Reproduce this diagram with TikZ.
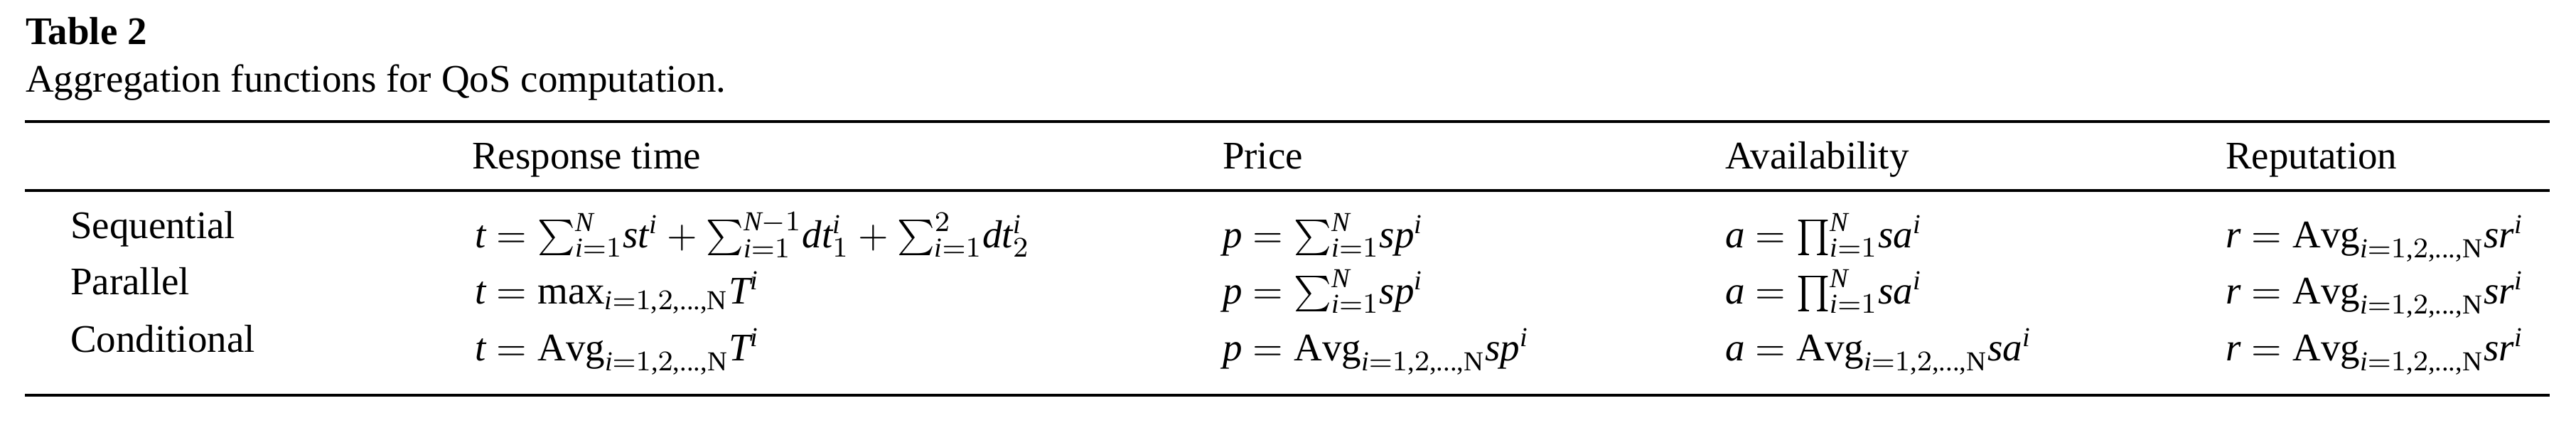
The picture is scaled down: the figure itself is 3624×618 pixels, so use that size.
\documentclass[tikz,border=0pt]{standalone}
\usepackage{fontspec}
\setmainfont{Liberation Serif}
\DeclareSymbolFont{letters}{TU}{\rmdefault}{m}{it}
\DeclareMathSymbol{\ldotp}{\mathpunct}{operators}{"2E}
\AtBeginDocument{\mathcode`\,="602C \mathcode`\.="002E }

\begin{document}
\begin{tikzpicture}[x=0.2pt, y=-0.2pt,
    txt/.style={anchor=base west, inner sep=0pt, font=\fontsize{11}{13}\selectfont},
    rule/.style={line width=0.8pt}]
      \useasboundingbox (0,0) rectangle (3624,618);

      \node [txt] (title) at (35,62) {\textbf{Table 2}};
      \node [txt] (caption) at (35,129) {Aggregation functions for QoS computation.};

      \draw [rule] (35,171) -- (3587,171);
      \draw [rule] (35,268) -- (3587,268);
      \draw [rule] (35,556) -- (3587,556);

      \node [txt] (hdtime) at (663,237) {Response time};
      \node [txt] (hdprice) at (1719,237) {Price};
      \node [txt] (hdavail) at (2426,237) {Availability};
      \node [txt] (hdrep) at (3130,237) {Reputation};

      \node [txt] (seq) at (98,335) {Sequential};
      \node [txt] (par) at (98,414) {Parallel};
      \node [txt] (cond) at (98,495) {Conditional};

      \node [txt] (seqtime) at (667,348) {$t=\sum_{i=1}^{N}\!st^{i}+\sum_{i=1}^{N-1}\!dt_{1}^{i}+\sum_{i=1}^{2}\!dt_{2}^{i}$};
      \node [txt] (partime) at (667,427) {$t=\max_{i=1,2,\ldots,\mathrm{N}}\!T^{i}$};
      \node [txt] (condtime) at (667,507) {$t=\mathrm{Avg}_{i=1,2,\ldots,\mathrm{N}}T^{i}$};

      \node [txt] (seqprice) at (1719,348) {$p=\sum_{i=1}^{N}\!sp^{i}$};
      \node [txt] (parprice) at (1719,427) {$p=\sum_{i=1}^{N}\!sp^{i}$};
      \node [txt] (condprice) at (1719,507) {$p=\mathrm{Avg}_{i=1,2,\ldots,\mathrm{N}}sp^{i}$};

      \node [txt] (seqavail) at (2426,348) {$a=\prod_{i=1}^{N}\!sa^{i}$};
      \node [txt] (paravail) at (2426,427) {$a=\prod_{i=1}^{N}\!sa^{i}$};
      \node [txt] (condavail) at (2426,507) {$a=\mathrm{Avg}_{i=1,2,\ldots,\mathrm{N}}sa^{i}$};

      \node [txt] (seqrep) at (3130,348) {$r=\mathrm{Avg}_{i=1,2,\ldots,\mathrm{N}}sr^{i}$};
      \node [txt] (parrep) at (3130,427) {$r=\mathrm{Avg}_{i=1,2,\ldots,\mathrm{N}}sr^{i}$};
      \node [txt] (condrep) at (3130,507) {$r=\mathrm{Avg}_{i=1,2,\ldots,\mathrm{N}}sr^{i}$};
    \end{tikzpicture}
\end{document}
